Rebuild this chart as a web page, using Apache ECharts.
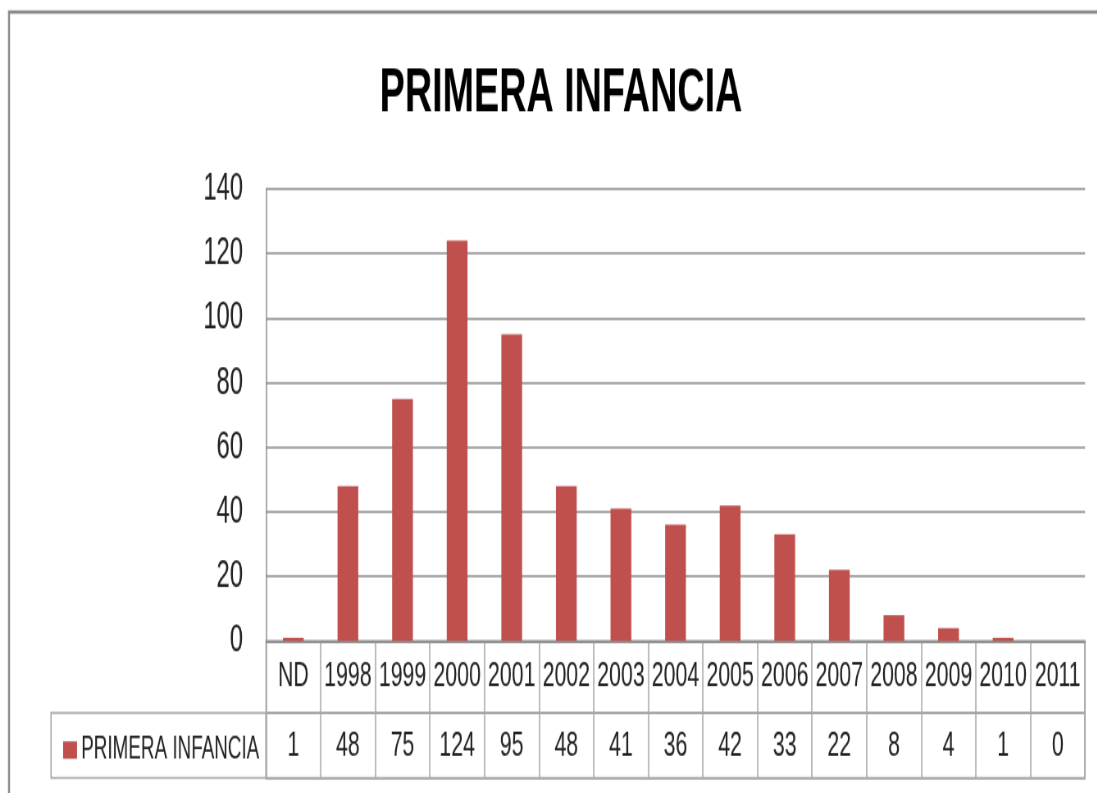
<!DOCTYPE html>
<html>
<head>
<meta charset="utf-8">
<script src="https://cdn.jsdelivr.net/npm/echarts@6/dist/echarts.min.js"></script>
<style>
html, body { margin: 0; padding: 0; background: #fff; }
#wrap { position: relative; width: 1097px; height: 793px; overflow: hidden; }
/* the source picture is narrow and tall, so the canvas is squeezed the same way */
#chart { position: absolute; left: 0; top: 0; width: 1338px; height: 592px; transform: scale(0.82, 1.34); transform-origin: 0 0; }
</style>
</head>
<body>
<div id="wrap"><div id="chart"></div></div>
<script>
var chartTitle = 'PRIMERA INFANCIA';
var seriesName = 'PRIMERA INFANCIA';
var categories = ['ND', '1998', '1999', '2000', '2001', '2002', '2003', '2004', '2005', '2006', '2007', '2008', '2009', '2010', '2011'];
var values = [1, 48, 75, 124, 95, 48, 41, 36, 42, 33, 22, 8, 4, 1, 0];
var yMin = 0, yMax = 140, yStep = 20;

var KX = 0.82, KY = 1.34;
function sx(x) { return x / KX; }
function sy(y) { return y / KY; }

var font = "'Liberation Sans', Arial, sans-serif";
var lineGray = '#8f8f8f';
var cellGray = '#a6a6a6';

var chart = echarts.init(document.getElementById('chart'));

var plotLeft = sx(266), plotWidth = sx(1085) - sx(266);

var option = {
    animation: false,
    backgroundColor: '#fff',
    graphic: [
        {
            type: 'polyline',
            shape: { points: [[sx(9), 2000], [sx(9), sy(12)], [2000, sy(12)]] },
            style: { stroke: '#8a8a8a', lineWidth: 2.5, fill: null }
        },
        {
            type: 'text',
            x: sx(561), y: sy(94),
            style: {
                text: chartTitle,
                font: 'bold 46px ' + font,
                fill: '#000',
                textAlign: 'center',
                textVerticalAlign: 'middle'
            }
        },
        {
            // legend key cell of the data table
            type: 'rect',
            shape: { x: sx(51), y: sy(713), width: sx(266) - sx(51), height: sy(778) - sy(713) },
            style: { fill: null, stroke: cellGray, lineWidth: 1.5 }
        }
    ],
    legend: {
        data: [seriesName],
        left: sx(59),
        top: sy(744) - 12,
        itemWidth: 17,
        itemHeight: 13,
        itemGap: 6,
        icon: 'rect',
        textStyle: { fontFamily: font, fontSize: 23, color: '#222' }
    },
    grid: [
        { left: plotLeft, width: plotWidth, top: sy(189), height: sy(641) - sy(189) },
        { left: plotLeft, width: plotWidth, top: sy(641), height: sy(713) - sy(641), show: true, borderColor: cellGray, borderWidth: 1.5 },
        { left: plotLeft, width: plotWidth, top: sy(713), height: sy(778) - sy(713), show: true, borderColor: cellGray, borderWidth: 1.5 }
    ],
    xAxis: [
        {
            type: 'category', gridIndex: 0, data: categories,
            axisLine: { lineStyle: { color: lineGray, width: 1.5 } },
            axisTick: { show: false },
            axisLabel: { show: false }
        },
        {
            type: 'category', gridIndex: 1, data: categories,
            axisLine: { lineStyle: { color: cellGray, width: 1.5 } },
            axisTick: { show: false },
            splitLine: { show: true, lineStyle: { color: cellGray, width: 1.5 } },
            axisLabel: {
                interval: 0, margin: -(sy(713) - sy(677)), verticalAlign: 'middle',
                fontFamily: font, fontSize: 26, color: '#222'
            }
        },
        {
            type: 'category', gridIndex: 2, data: categories,
            axisLine: { lineStyle: { color: cellGray, width: 1.5 } },
            axisTick: { show: false },
            splitLine: { show: true, lineStyle: { color: cellGray, width: 1.5 } },
            axisLabel: {
                interval: 0, margin: -(sy(778) - sy(746)), verticalAlign: 'middle',
                fontFamily: font, fontSize: 26, color: '#222',
                formatter: function (v, i) { return String(values[i]); }
            }
        }
    ],
    yAxis: [
        {
            type: 'value', gridIndex: 0, min: yMin, max: yMax, interval: yStep,
            axisLine: { show: true, lineStyle: { color: lineGray, width: 1.5 } },
            axisTick: { show: false },
            splitLine: { lineStyle: { color: lineGray, width: 1.5 } },
            axisLabel: { margin: sx(23), fontFamily: font, fontSize: 29, color: '#222' }
        },
        { type: 'value', gridIndex: 1, show: false },
        { type: 'value', gridIndex: 2, show: false }
    ],
    series: [
        {
            name: seriesName,
            type: 'bar',
            xAxisIndex: 0,
            yAxisIndex: 0,
            data: values,
            barWidth: '38%',
            itemStyle: { color: '#C0504D' }
        }
    ]
};

chart.setOption(option);
</script>
</body>
</html>
